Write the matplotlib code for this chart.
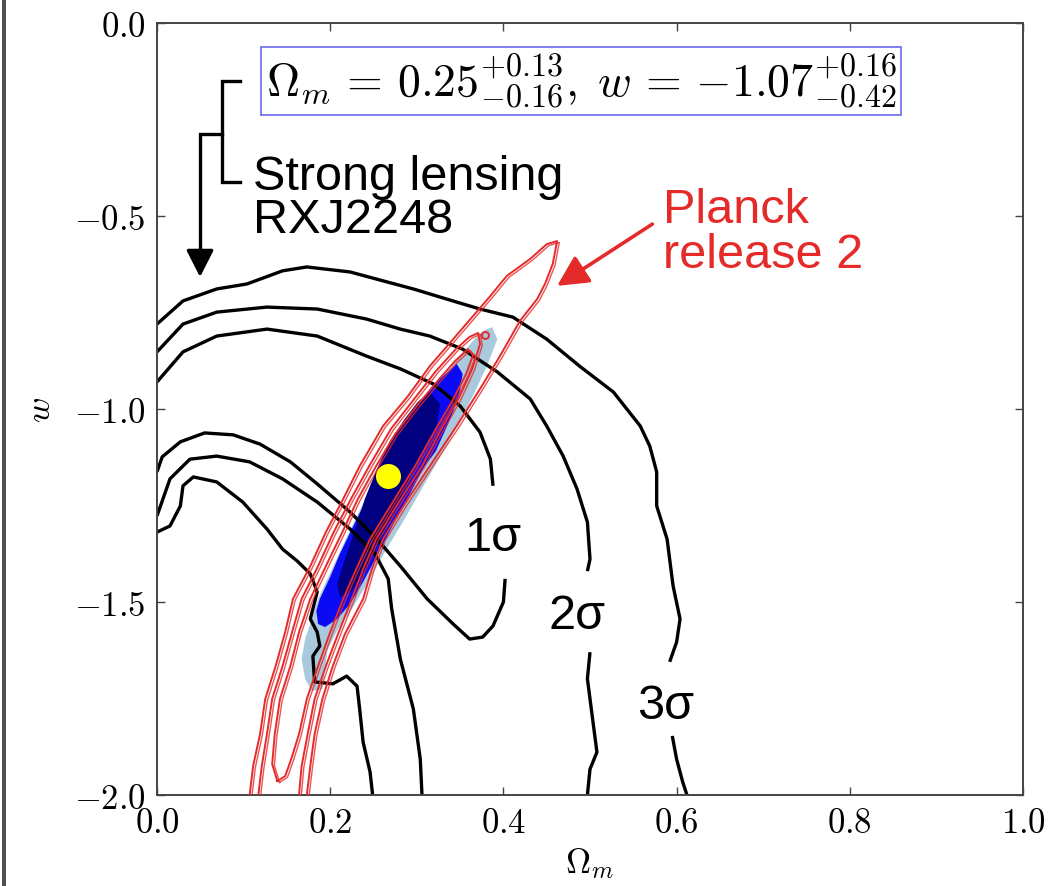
import numpy as np
import matplotlib
matplotlib.use("Agg")
import matplotlib.pyplot as plt
from matplotlib.ticker import FuncFormatter
from matplotlib.transforms import offset_copy

plt.rcParams['mathtext.fontset'] = 'cm'
plt.rcParams['font.family'] = ['Liberation Sans', 'DejaVu Sans']

# --- strong lensing contours (Omega_m, w), each split where the sigma label sits ---
sig1_upper = [(0.000, -0.930), (0.030, -0.852), (0.069, -0.811), (0.127, -0.793), (0.185, -0.811),
              (0.242, -0.863), (0.281, -0.896), (0.319, -0.935), (0.350, -0.992), (0.373, -1.060),
              (0.385, -1.130), (0.388, -1.199)]
sig1_lower = [(0.402, -1.440), (0.400, -1.500), (0.388, -1.562), (0.376, -1.591), (0.361, -1.596),
              (0.342, -1.557), (0.312, -1.492), (0.281, -1.407), (0.254, -1.337), (0.223, -1.267),
              (0.185, -1.194), (0.154, -1.137), (0.119, -1.091), (0.088, -1.067), (0.055, -1.062),
              (0.027, -1.085), (0.006, -1.124), (0.000, -1.163)]

sig2_outer_a = [(0.000, -0.852), (0.030, -0.780), (0.069, -0.749), (0.127, -0.736), (0.185, -0.741),
                (0.242, -0.767), (0.281, -0.793), (0.315, -0.811), (0.353, -0.845), (0.393, -0.904),
                (0.431, -0.974), (0.450, -1.044), (0.469, -1.122), (0.485, -1.207), (0.497, -1.293),
                (0.500, -1.389), (0.497, -1.420)]
sig2_outer_b = [(0.500, -1.630), (0.497, -1.699), (0.503, -1.803), (0.508, -1.889), (0.500, -1.933),
                (0.497, -2.000)]
sig2_inner = [(0.000, -1.277), (0.015, -1.181), (0.038, -1.130), (0.069, -1.122), (0.107, -1.137),
              (0.145, -1.181), (0.185, -1.241), (0.223, -1.311), (0.252, -1.376), (0.267, -1.440),
              (0.271, -1.518), (0.281, -1.648), (0.296, -1.777), (0.304, -1.907), (0.306, -2.000)]

sig3_outer_a = [(0.000, -0.780), (0.030, -0.720), (0.069, -0.689), (0.104, -0.676), (0.145, -0.642),
                (0.173, -0.632), (0.223, -0.645), (0.261, -0.668), (0.296, -0.689), (0.346, -0.723),
                (0.373, -0.741), (0.411, -0.762), (0.450, -0.819), (0.488, -0.889), (0.527, -0.956),
                (0.558, -1.044), (0.569, -1.096), (0.577, -1.163), (0.577, -1.251), (0.589, -1.337),
                (0.596, -1.459), (0.604, -1.544), (0.600, -1.604), (0.592, -1.655)]
sig3_outer_b = [(0.595, -1.847), (0.600, -1.907), (0.607, -1.966), (0.612, -2.000)]
sig3_inner = [(0.000, -1.319), (0.015, -1.303), (0.027, -1.251), (0.030, -1.199), (0.042, -1.176),
              (0.069, -1.189), (0.099, -1.241), (0.127, -1.311), (0.145, -1.363), (0.162, -1.394),
              (0.177, -1.427), (0.185, -1.474), (0.177, -1.544), (0.185, -1.578), (0.188, -1.614),
              (0.180, -1.640), (0.182, -1.707), (0.203, -1.712), (0.219, -1.692), (0.231, -1.718),
              (0.234, -1.777), (0.238, -1.863), (0.246, -1.940), (0.249, -2.000)]

# --- Planck contours ---
planck_3 = [(0.107, -2.000), (0.111, -1.925), (0.119, -1.842), (0.125, -1.751), (0.137, -1.666),
            (0.148, -1.578), (0.157, -1.492), (0.177, -1.407), (0.195, -1.319), (0.215, -1.233),
            (0.234, -1.148), (0.261, -1.044), (0.289, -0.969), (0.315, -0.889), (0.342, -0.819),
            (0.365, -0.759), (0.385, -0.707), (0.404, -0.655), (0.431, -0.611), (0.450, -0.573),
            (0.462, -0.565), (0.457, -0.624), (0.448, -0.676), (0.439, -0.715), (0.419, -0.772),
            (0.396, -0.863), (0.373, -0.948), (0.346, -1.044), (0.315, -1.148), (0.286, -1.246),
            (0.261, -1.337), (0.248, -1.415), (0.238, -1.492), (0.217, -1.583), (0.203, -1.666),
            (0.191, -1.751), (0.182, -1.842), (0.177, -1.925), (0.173, -2.000)]
planck_2 = [(0.117, -2.000), (0.121, -1.925), (0.127, -1.842), (0.133, -1.751), (0.145, -1.666),
            (0.156, -1.578), (0.167, -1.492), (0.186, -1.407), (0.204, -1.319), (0.224, -1.233),
            (0.245, -1.148), (0.270, -1.052), (0.297, -0.974), (0.322, -0.902), (0.345, -0.845),
            (0.361, -0.813), (0.371, -0.803), (0.373, -0.832), (0.364, -0.896), (0.348, -0.974),
            (0.327, -1.057), (0.306, -1.148), (0.278, -1.246), (0.253, -1.337), (0.238, -1.415),
            (0.225, -1.492), (0.209, -1.583), (0.195, -1.666), (0.182, -1.751), (0.174, -1.842),
            (0.167, -1.925), (0.164, -2.000)]
planck_1 = [(0.139, -1.964), (0.133, -1.920), (0.136, -1.842), (0.142, -1.751), (0.154, -1.666),
            (0.164, -1.578), (0.177, -1.492), (0.195, -1.407), (0.214, -1.319), (0.232, -1.233),
            (0.253, -1.148), (0.275, -1.065), (0.300, -0.992), (0.323, -0.930), (0.344, -0.876),
            (0.359, -0.845), (0.365, -0.860), (0.357, -0.909), (0.341, -0.979), (0.320, -1.060),
            (0.298, -1.148), (0.271, -1.246), (0.246, -1.337), (0.230, -1.415), (0.215, -1.492),
            (0.200, -1.578), (0.186, -1.666), (0.173, -1.751), (0.164, -1.842), (0.155, -1.907),
            (0.148, -1.951), (0.139, -1.964)]
planck_island = (0.379, -0.808)

# --- joint constraint (filled) ---
joint_3 = [(0.387, -0.788), (0.393, -0.819), (0.382, -0.883), (0.366, -0.961), (0.348, -1.039),
           (0.327, -1.124), (0.309, -1.194), (0.286, -1.285), (0.263, -1.370), (0.244, -1.448),
           (0.225, -1.518), (0.209, -1.570), (0.197, -1.622), (0.194, -1.674), (0.191, -1.725),
           (0.179, -1.731), (0.171, -1.699), (0.167, -1.648), (0.171, -1.596), (0.177, -1.557),
           (0.186, -1.492), (0.202, -1.415), (0.218, -1.337), (0.236, -1.254), (0.254, -1.174),
           (0.275, -1.091), (0.298, -1.013), (0.321, -0.943), (0.344, -0.878), (0.364, -0.826),
           (0.376, -0.798)]
joint_2 = [(0.346, -0.883), (0.353, -0.909), (0.348, -0.974), (0.336, -1.039), (0.322, -1.109),
           (0.307, -1.155), (0.292, -1.220), (0.273, -1.298), (0.255, -1.376), (0.238, -1.448),
           (0.223, -1.505), (0.208, -1.544), (0.194, -1.565), (0.186, -1.557), (0.184, -1.523),
           (0.188, -1.492), (0.200, -1.435), (0.211, -1.376), (0.225, -1.311), (0.242, -1.233),
           (0.258, -1.155), (0.275, -1.091), (0.292, -1.026), (0.309, -0.969), (0.327, -0.922)]
joint_1 = [(0.315, -0.956), (0.327, -0.987), (0.323, -1.039), (0.309, -1.104), (0.294, -1.168),
           (0.278, -1.246), (0.261, -1.324), (0.244, -1.402), (0.225, -1.472), (0.211, -1.487),
           (0.208, -1.453), (0.217, -1.389), (0.229, -1.311), (0.240, -1.233), (0.254, -1.155),
           (0.269, -1.083), (0.286, -1.026), (0.301, -0.982)]

best_fit = (0.267, -1.174)
sigma_labels = ['1σ', '2σ', '3σ']
sigma_label_pos = [(0.388, -1.332), (0.485, -1.536), (0.587, -1.769)]

x_ticks = [0.0, 0.2, 0.4, 0.6, 0.8, 1.0]
y_ticks = [0.0, -0.5, -1.0, -1.5, -2.0]

RED = '#e52a2a'
LABEL_SIZE = 35

fig = plt.figure(figsize=(10.56, 8.87), dpi=100)
ax = fig.add_axes([157 / 1056, 1 - 796 / 887, 866 / 1056, 772 / 887])

# filled joint constraint
for poly, col in [(joint_3, '#a9c9dc'), (joint_2, '#0a0af5'), (joint_1, '#000080')]:
    p = np.array(poly)
    ax.fill(p[:, 0], p[:, 1], color=col, lw=0, zorder=1)

# lensing contours
for line in [sig1_upper, sig1_lower, sig2_outer_a, sig2_outer_b, sig2_inner,
             sig3_outer_a, sig3_outer_b, sig3_inner]:
    p = np.array(line)
    ax.plot(p[:, 0], p[:, 1], color='black', lw=2.4, solid_capstyle='butt', zorder=2)

# Planck contours, drawn twice with a small shift for the doubled chain look
shifted = offset_copy(ax.transData, fig=fig, x=1.6, y=-1.0, units='points')
for line in [planck_3, planck_2, planck_1]:
    p = np.array(line)
    ax.plot(p[:, 0], p[:, 1], color=RED, lw=1.4, zorder=3)
    ax.plot(p[:, 0], p[:, 1], color=RED, lw=1.0, alpha=0.8, transform=shifted, zorder=3)
ax.plot(*planck_island, 'o', ms=5, mfc='none', mec=RED, mew=1.4, zorder=3)

ax.plot(*best_fit, 'o', ms=18, color='#ffff00', mec='none', zorder=4)

for lab, (x, y) in zip(sigma_labels, sigma_label_pos):
    ax.text(x, y, lab, fontsize=LABEL_SIZE, ha='center', va='center', zorder=5)

# best-fit summary box
ax.text(0.490, -0.150,
        r'$\Omega_m\,=\,0.25^{+0.13}_{-0.16},\;w\,=\,{-}1.07^{+0.16}_{-0.42}$',
        fontsize=33, ha='center', va='center', zorder=5,
        bbox=dict(boxstyle='square,pad=0.1', fc='white', ec='#6868ee', lw=1.2))

# bracket pointing from the box down to the lensing contours
ax.plot([0.0958, 0.0747, 0.0747, 0.0958], [-0.1495, -0.1495, -0.411, -0.411],
        color='black', lw=2.4, solid_joinstyle='miter', zorder=5)
ax.plot([0.0747, 0.0497, 0.0497], [-0.2876, -0.2876, -0.60],
        color='black', lw=2.4, solid_joinstyle='miter', zorder=5)
ax.annotate('', xy=(0.0497, -0.658), xytext=(0.0497, -0.59),
            arrowprops=dict(arrowstyle='-|>,head_length=0.55,head_width=0.28', mutation_scale=30,
                            color='black', lw=2.4, shrinkA=0, shrinkB=0), zorder=5)
ax.text(0.111, -0.541, 'Strong lensing\nRXJ2248', fontsize=LABEL_SIZE, ha='left', va='baseline',
        linespacing=0.95, zorder=5)

ax.annotate('', xy=(0.462, -0.681), xytext=(0.572, -0.521),
            arrowprops=dict(arrowstyle='-|>,head_length=0.55,head_width=0.28', mutation_scale=34,
                            color=RED, lw=2.6, shrinkA=0, shrinkB=0), zorder=5)
ax.text(0.584, -0.632, 'Planck\nrelease 2', fontsize=LABEL_SIZE, color=RED, ha='left',
        va='baseline', linespacing=1.0, zorder=5)

ax.set_xlim(0, 1)
ax.set_ylim(-2, 0)
ax.set_xticks(x_ticks)
ax.set_yticks(y_ticks)
fmt = FuncFormatter(lambda v, pos: '$%.1f$' % v)
ax.xaxis.set_major_formatter(fmt)
ax.yaxis.set_major_formatter(fmt)
ax.tick_params(direction='in', length=6, width=1, top=True, right=True,
               labelsize=25, pad=8, color='#444444')
for s in ax.spines.values():
    s.set_color('#444444')
    s.set_linewidth(1.4)
ax.set_xlabel(r'$\Omega_m$', fontsize=25, labelpad=4)
ax.set_ylabel(r'$w$', fontsize=25, labelpad=12)

# dark border along the left edge
fig.add_artist(plt.Rectangle((2 / 1056, 0), 4 / 1056, 1, transform=fig.transFigure,
                             color='#505050', lw=0))

fig.savefig('out.png', dpi=100)
